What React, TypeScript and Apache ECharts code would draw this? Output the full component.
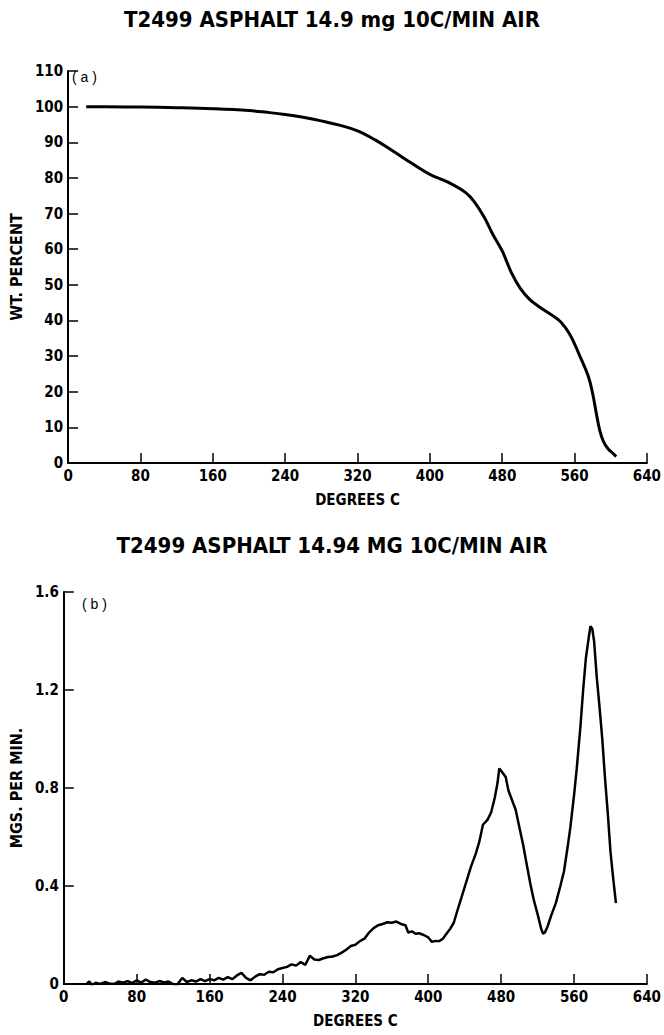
import React, { useEffect, useRef } from "react";
import * as echarts from "echarts";

const FONT = "'DejaVu Sans Condensed', 'DejaVu Sans', sans-serif";

const titleTop = "T2499 ASPHALT 14.9 mg 10C/MIN AIR";
const titleBottom = "T2499 ASPHALT 14.94 MG 10C/MIN AIR";
const xName = "DEGREES C";
const yNameTop = "WT. PERCENT";
const yNameBottom = "MGS. PER MIN.";

// (a) weight-percent curve
const tgTemp = [20, 40, 80, 120, 160, 200, 220, 240, 260, 280, 300, 320, 340, 360, 380, 400, 420, 440, 450, 460, 470, 480, 490, 500, 510, 520, 535, 545, 555, 565, 575, 580, 584, 588, 592, 597, 602, 606];
const tgWeight = [100, 100, 99.9, 99.7, 99.4, 98.9, 98.4, 97.8, 97.0, 96.0, 94.8, 93.2, 90.6, 87.4, 84.1, 81.0, 78.8, 75.8, 73.0, 69.0, 64.0, 59.5, 53.5, 49.0, 46.0, 44.0, 41.5, 39.5, 36.0, 30.5, 24.5, 19.5, 14.0, 9.0, 6.0, 4.0, 2.8, 1.8];

// (b) rate curve
const dtgTemp = [25, 28, 31, 35, 40, 45, 50, 55, 60, 65, 70, 75, 80, 85, 90, 95, 100, 105, 110, 115, 120, 123, 127, 130, 135, 140, 145, 150, 155, 160, 165, 170, 175, 180, 185, 190, 195, 200, 205, 210, 215, 220, 225, 230, 235, 240, 245, 250, 255, 260, 265, 270, 275, 280, 285, 290, 295, 300, 305, 310, 315, 320, 325, 330, 335, 340, 345, 350, 355, 360, 365, 370, 375, 378, 382, 386, 390, 395, 400, 404, 408, 412, 416, 420, 424, 428, 432, 437, 442, 447, 452, 456, 460, 465, 469, 473, 476, 478, 480, 482, 485, 488, 492, 496, 500, 504, 508, 512, 516, 520, 524, 526, 528, 531, 535, 540, 545, 549, 553, 556, 560, 563, 567, 570, 573, 576, 578, 580, 582, 585, 588, 591, 594, 597, 600, 603, 606];
const dtgRate = [0.0, 0.01, -0.005, 0.005, 0.0, 0.008, 0.002, 0.0, 0.01, 0.005, 0.012, 0.004, 0.015, 0.006, 0.018, 0.008, 0.005, 0.012, 0.006, 0.01, 0.0, -0.01, 0.01, 0.025, 0.008, 0.015, 0.01, 0.02, 0.012, 0.02, 0.015, 0.025, 0.018, 0.028, 0.02, 0.035, 0.045, 0.025, 0.015, 0.03, 0.04, 0.038, 0.05, 0.048, 0.06, 0.065, 0.07, 0.08, 0.075, 0.09, 0.078, 0.115, 0.1, 0.098, 0.105, 0.11, 0.112, 0.118, 0.128, 0.14, 0.155, 0.16, 0.175, 0.185, 0.21, 0.228, 0.24, 0.245, 0.252, 0.25, 0.255, 0.245, 0.24, 0.21, 0.215, 0.205, 0.207, 0.2, 0.19, 0.172, 0.176, 0.175, 0.185, 0.205, 0.225, 0.25, 0.3, 0.36, 0.42, 0.48, 0.53, 0.58, 0.65, 0.67, 0.7, 0.76, 0.82, 0.88, 0.87, 0.86, 0.845, 0.79, 0.75, 0.71, 0.64, 0.57, 0.49, 0.41, 0.34, 0.285, 0.225, 0.205, 0.21, 0.235, 0.28, 0.33, 0.4, 0.46, 0.56, 0.64, 0.77, 0.88, 1.05, 1.2, 1.33, 1.41, 1.46, 1.45, 1.4, 1.25, 1.13, 1.0, 0.84, 0.7, 0.54, 0.43, 0.33];

const xTicksMin = 0;
const xTicksMax = 640;
const xStep = 80;

const pair = (xs: number[], ys: number[]) => xs.map((x, i) => [x, ys[i]]);

export default function App() {
  const ref = useRef<HTMLDivElement>(null);
  useEffect(() => {
    if (!ref.current) return;
    const chart = echarts.init(ref.current, null, { renderer: "svg" });
    const axisLine = { show: true, lineStyle: { color: "#000", width: 2 } };
    const axisTick = { show: true, inside: true, length: 10, lineStyle: { color: "#000", width: 1.5 } };
    const labelStyle = { color: "#000", fontFamily: FONT, fontWeight: "bold" as const, fontSize: 15 };
    const xNameStyle = { color: "#000", fontFamily: FONT, fontWeight: "bold" as const, fontSize: 15 };
    const yNameStyle = { color: "#000", fontFamily: FONT, fontWeight: "bold" as const, fontSize: 16 };
    const xAxisBase = {
      type: "value" as const,
      min: xTicksMin,
      max: xTicksMax,
      interval: xStep,
      axisLine,
      axisTick,
      splitLine: { show: false },
      axisLabel: { ...labelStyle, margin: 5 },
      name: xName,
      nameLocation: "middle" as const,
      nameGap: 29,
      nameTextStyle: xNameStyle,
    };
    chart.setOption({
      animation: false,
      backgroundColor: "#fff",
      title: [
        { text: titleTop, left: "center", top: 3, textStyle: { fontFamily: FONT, fontWeight: "bold", fontSize: 22, color: "#000" } },
        { text: titleBottom, left: "center", top: 529, textStyle: { fontFamily: FONT, fontWeight: "bold", fontSize: 22, color: "#000" } },
      ],
      grid: [
        { left: 60, right: 13, top: 71, height: 392 },
        { left: 60, right: 13, top: 592, height: 392 },
      ],
      xAxis: [
        { ...xAxisBase, gridIndex: 0 },
        { ...xAxisBase, gridIndex: 1 },
      ],
      yAxis: [
        {
          type: "value", gridIndex: 0, min: 0, max: 110, interval: 10,
          axisLine, axisTick, splitLine: { show: false },
          axisLabel: { ...labelStyle, margin: 5 },
          name: yNameTop, nameLocation: "middle", nameGap: 37, nameTextStyle: yNameStyle,
        },
        {
          type: "value", gridIndex: 1, min: 0, max: 1.6, interval: 0.4,
          axisLine, axisTick, splitLine: { show: false },
          axisLabel: { ...labelStyle, margin: 5 },
          name: yNameBottom, nameLocation: "middle", nameGap: 37, nameTextStyle: yNameStyle,
        },
      ],
      graphic: [
        { type: "text", left: 72, top: 70, style: { text: "( a )", fontFamily: "'Liberation Sans', sans-serif", fontSize: 14, fill: "#000" } },
        { type: "text", left: 82, top: 597, style: { text: "( b )", fontFamily: "'Liberation Sans', sans-serif", fontSize: 14, fill: "#000" } },
      ],
      series: [
        {
          type: "line", xAxisIndex: 0, yAxisIndex: 0, data: pair(tgTemp, tgWeight),
          smooth: 0.4, showSymbol: false, lineStyle: { color: "#000", width: 3 },
        },
        {
          type: "line", xAxisIndex: 1, yAxisIndex: 1, data: pair(dtgTemp, dtgRate),
          showSymbol: false, lineStyle: { color: "#000", width: 2.5 },
        },
      ],
    });
    return () => chart.dispose();
  }, []);
  return <div ref={ref} style={{ position: "fixed", left: 0, top: 0, width: 664, height: 1035 }} />;
}
